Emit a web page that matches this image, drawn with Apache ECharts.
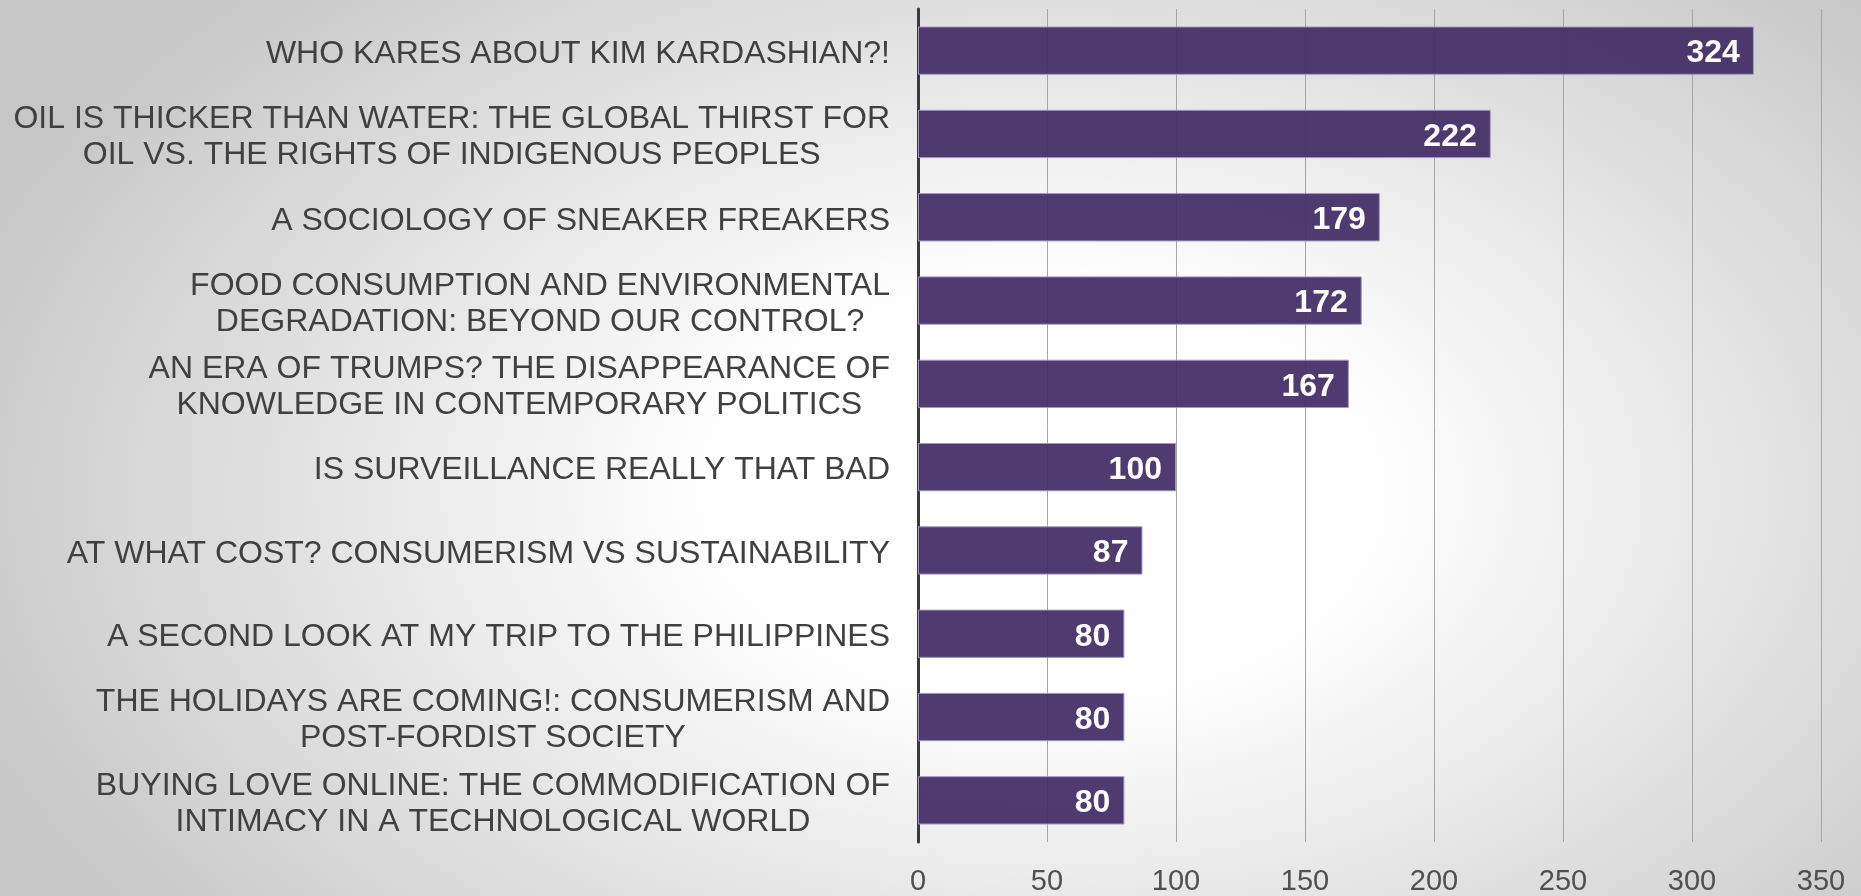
<!DOCTYPE html>
<html>
<head>
<meta charset="utf-8">
<script src="https://cdn.jsdelivr.net/npm/echarts@6/dist/echarts.min.js"></script>
<style>
html,body{margin:0;padding:0;width:1861px;height:896px;overflow:hidden;}
body{background:radial-gradient(ellipse 62% 80% at 56% 55%, #ffffff 0%, #ffffff 28%, #c6c6c6 100%);}
#c{width:1861px;height:896px;}
</style>
</head>
<body>
<div id="c"></div>
<script>
const categories = [
  "WHO KARES ABOUT KIM KARDASHIAN?!",
  "OIL IS THICKER THAN WATER: THE GLOBAL THIRST FOR\nOIL VS. THE RIGHTS OF INDIGENOUS PEOPLES",
  "A SOCIOLOGY OF SNEAKER FREAKERS",
  "FOOD CONSUMPTION AND ENVIRONMENTAL\nDEGRADATION: BEYOND OUR CONTROL?",
  "AN ERA OF TRUMPS? THE DISAPPEARANCE OF\nKNOWLEDGE IN CONTEMPORARY POLITICS",
  "IS SURVEILLANCE REALLY THAT BAD",
  "AT WHAT COST? CONSUMERISM VS SUSTAINABILITY",
  "A SECOND LOOK AT MY TRIP TO THE PHILIPPINES",
  "THE HOLIDAYS ARE COMING!: CONSUMERISM AND\nPOST-FORDIST SOCIETY",
  "BUYING LOVE ONLINE: THE COMMODIFICATION OF\nINTIMACY IN A TECHNOLOGICAL WORLD"
];
const values = [324, 222, 179, 172, 167, 100, 87, 80, 80, 80];
const xTicks = [0, 50, 100, 150, 200, 250, 300, 350];

const chart = echarts.init(document.getElementById('c'), null, {renderer: 'canvas'});
chart.setOption({
  backgroundColor: 'transparent',
  animation: false,
  grid: {left: 918, right: 40, top: 9, bottom: 52, containLabel: false},
  xAxis: {
    type: 'value',
    min: xTicks[0],
    max: xTicks[xTicks.length - 1],
    interval: xTicks[1] - xTicks[0],
    axisLine: {show: false},
    axisTick: {show: false},
    splitLine: {show: true, lineStyle: {color: '#a6a6a6', width: 1}},
    axisLabel: {
      color: '#505050', fontSize: 29, fontFamily: 'Liberation Sans, Arial, sans-serif',
      margin: 25
    }
  },
  yAxis: {
    type: 'category',
    inverse: true,
    data: categories,
    axisLine: {show: true, lineStyle: {color: '#3a3a3a', width: 3}},
    axisTick: {show: false},
    splitLine: {show: false},
    axisLabel: {
      margin: 28,
      align: 'right',
      padding: [7, 0, 0, 0],
      formatter: function (v) {
        return v.split('\n').map(function (l) { return '{c|' + l + '}'; }).join('\n');
      },
      rich: {
        c: {
          align: 'center',
          color: '#404040',
          fontSize: 32,
          lineHeight: 36,
          fontFamily: 'Liberation Sans, Arial, sans-serif'
        }
      }
    }
  },
  series: [{
    type: 'bar',
    data: values,
    barWidth: '58%',
    itemStyle: {color: 'rgba(66,44,100,0.93)', borderColor: '#a497c4', borderWidth: 1},
    label: {
      show: true,
      position: 'insideRight',
      distance: 14,
      offset: [0, 3],
      color: '#ffffff',
      fontSize: 32,
      fontWeight: 'bold',
      fontFamily: 'Liberation Sans, Arial, sans-serif'
    }
  }]
});
</script>
</body>
</html>
